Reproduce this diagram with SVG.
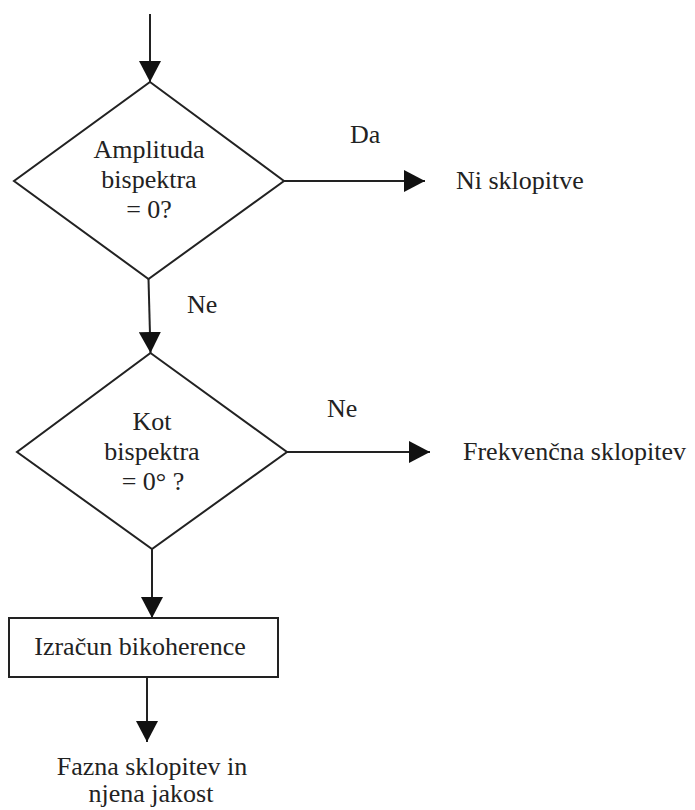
<svg xmlns="http://www.w3.org/2000/svg" width="695" height="810" viewBox="0 0 695 810" font-family="'Liberation Serif','Times New Roman',serif" font-size="26">
<style>
text{font-family:"Liberation Serif","Times New Roman",serif;font-size:26px;fill:#222}
.c{text-anchor:middle}
.s{fill:none;stroke:#222;stroke-width:2}
</style>
<defs>
<marker id="ah" markerUnits="userSpaceOnUse" markerWidth="22" markerHeight="22" refX="21" refY="11" orient="auto"><path d="M0,0 L21,11 L0,22 Z" fill="#111"/></marker>
</defs>
<rect width="695" height="810" fill="#fff"/>
<g id="connectors" fill="none" stroke="#222" stroke-width="2" marker-end="url(#ah)">
<line x1="150" y1="14" x2="150" y2="82"/>
<line x1="148.5" y1="279" x2="150.5" y2="353"/>
<line x1="284" y1="181" x2="425" y2="181"/>
<line x1="287" y1="452" x2="430" y2="452"/>
<line x1="152" y1="549" x2="152" y2="618"/>
<line x1="147" y1="677" x2="147" y2="742"/>
</g>
<g id="d1">
<polygon class="s" points="150,82 284,181 148.5,279 14,181"/>
<text class="c" x="149" y="158">Amplituda</text>
<text class="c" x="149" y="188">bispektra</text>
<text class="c" x="149" y="218">= 0?</text>
</g>
<g id="d2">
<polygon class="s" points="150.5,353 287,452 152,549 17,452"/>
<text class="c" x="152" y="430">Kot</text>
<text class="c" x="152" y="460">bispektra</text>
<text class="c" x="153" y="490">= 0° ?</text>
</g>
<g id="box">
<rect class="s" x="9" y="618" width="269" height="59"/>
<text class="c" x="140" y="655">Izračun bikoherence</text>
</g>
<g id="t-ni">
<text x="456" y="189">Ni sklopitve</text>
</g>
<g id="t-frek">
<text x="463" y="460">Frekvenčna sklopitev</text>
</g>
<g id="t-fazna">
<text class="c" x="152" y="775">Fazna sklopitev in</text>
<text class="c" x="151" y="802">njena jakost</text>
</g>
<g id="labels">
<text x="350" y="143">Da</text>
<text x="187" y="313">Ne</text>
<text x="327" y="417">Ne</text>
</g>
</svg>
